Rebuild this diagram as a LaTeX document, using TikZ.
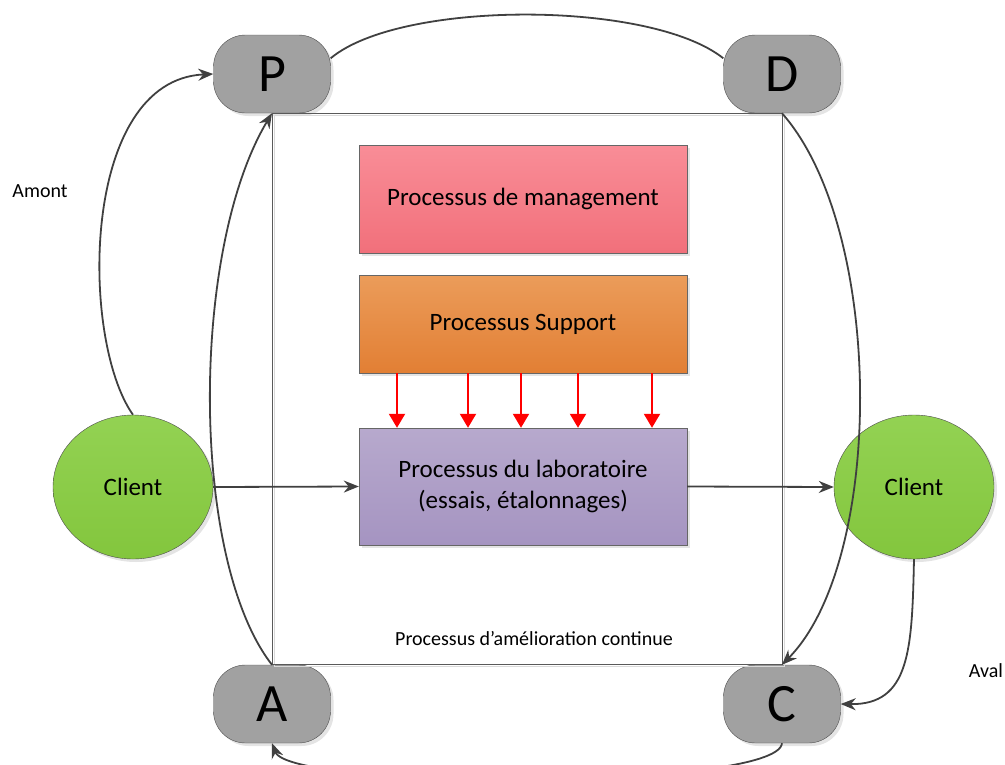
\documentclass[tikz,border=0pt]{standalone}
\usepackage{fontspec}
\setmainfont{Carlito}
\usetikzlibrary{arrows.meta,positioning,shapes.geometric,shadows}
\tikzset{font=\fontsize{25}{31}\selectfont}
\tikzset{every node/.append style={transform shape=false}}
\definecolor{mgmttop}{HTML}{F98D97}
\definecolor{mgmtbot}{HTML}{F1707B}
\definecolor{supptop}{HTML}{EB9C5A}
\definecolor{suppbot}{HTML}{E27F34}
\definecolor{labtop}{HTML}{B7A9CD}
\definecolor{labbot}{HTML}{A594C1}
\definecolor{clitop}{HTML}{93D253}
\definecolor{clibot}{HTML}{83C63D}
\tikzset{
  softshadow/.style={drop shadow={shadow xshift=3pt,shadow yshift=-3pt,fill=black!30,opacity=0.35}},
  pdca/.style={draw=black!70,fill=black!37,rounded corners=32pt,minimum width=117pt,
    minimum height=78pt,inner sep=0pt,font=\fontsize{54}{54}\selectfont,softshadow},
  procbox/.style={draw=black!60,minimum width=328pt,inner sep=0pt,align=center,softshadow},
  client/.style={ellipse,draw=black!70,top color=clitop,bottom color=clibot,
    minimum width=160pt,minimum height=144pt,inner sep=0pt,softshadow},
  flow/.style={draw=black!75,line width=1.8pt,-{Stealth[length=15pt,width=12pt]}},
  feed/.style={red,line width=2pt,-{Triangle[length=14pt,width=16pt]}},
  note/.style={font=\fontsize{20}{24}\selectfont}
}

\begin{document}
\begin{tikzpicture}[x=1pt,y=-1pt]
  \useasboundingbox (0,0) rectangle (1005,764);

  \node[pdca] (P) at (272,74) {P};
  \node[pdca] (D) at (782,74) {D};
  \node[pdca] (A) at (272,704) {A};
  \node[pdca] (C) at (782,704) {C};

  \draw[black!15,line width=1pt] ([shift={(2.5pt,-2pt)}]P.south) -- ([shift={(2.5pt,-2pt)}]D.south) -- ([shift={(2.5pt,-2pt)}]C.north) -- ([shift={(2.5pt,-2pt)}]A.north) -- cycle;
  \draw[black!65,line width=0.9pt] (P.south) -- (D.south) -- (C.north) -- (A.north) -- cycle;

  \node[procbox,minimum height=108pt,top color=mgmttop,bottom color=mgmtbot] (mgmt) at (523,199) {Processus de management};
  \node[procbox,minimum height=98pt,top color=supptop,bottom color=suppbot] (supp) at (523,324) {Processus Support};
  \node[procbox,minimum height=117pt,top color=labtop,bottom color=labbot] (lab) at (523,486.5)
    {Processus du laboratoire\\(essais, étalonnages)};

  \node[client] (cliL) at (133,487) {Client};
  \node[client] (cliR) at (914,487) {Client};

  \foreach \x in {397,468,521,578,652}{
    \draw[feed] (\x,0 |- supp.south) -- (\x,0 |- lab.north);
  };

  \draw[flow] (cliL.east) -- (lab.west);
  \draw[flow] (lab.east) -- (cliR.west);

  \draw[flow] (cliL.north) .. controls (80,340) and (80,80) .. (P.west);
  \draw[flow] (A.north) .. controls (190,560) and (190,250) .. (P.south);
  \draw[draw=black!75,line width=1.8pt] (P.15) .. controls (400,0) and (650,0) .. (D.165);
  \draw[flow] (D.south) .. controls (885,230) and (885,560) .. (C.north);
  \draw[flow] (cliR.south) .. controls (912,650) and (910,705) .. (C.east);
  \draw[flow] (C.south) .. controls (778,790) and (290,790) .. (A.south);

  \node[note] (amont) at (40,191) {Amont};
  \node[note] (aval) at (986,671) {Aval};
  \node[note] (amelio) at (534,639) {Processus d’amélioration continue};
\end{tikzpicture}
\end{document}
